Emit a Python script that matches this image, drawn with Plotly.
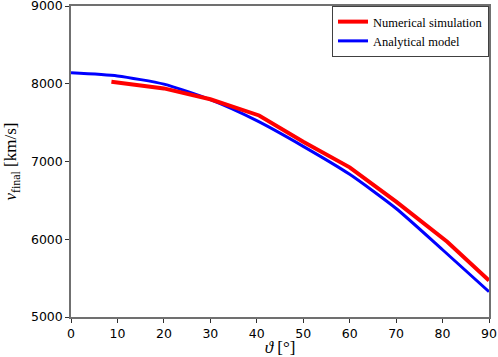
import plotly.graph_objects as go

theta_num = [8.7, 20, 30, 40.5, 50, 60, 70, 81, 90]
v_num = [8027, 7940, 7800, 7592, 7255, 6925, 6483, 5969, 5470]

theta_ana = [0, 10, 20, 30, 40, 50, 60, 70, 80, 90]
v_ana = [8140, 8100, 7995, 7795, 7525, 7195, 6835, 6395, 5865, 5325]

x_ticks = [0, 10, 20, 30, 40, 50, 60, 70, 80, 90]
y_ticks = [5000, 6000, 7000, 8000, 9000]

serif = "Liberation Serif, DejaVu Serif, serif"
sans = "DejaVu Sans, sans-serif"

fig = go.Figure()
fig.add_trace(go.Scatter(x=theta_ana, y=v_ana, mode="lines", name="Analytical model",
                         line=dict(color="#0000ff", width=3, shape="spline", smoothing=0.6),
                         legendrank=2))
fig.add_trace(go.Scatter(x=theta_num, y=v_num, mode="lines", name="Numerical simulation",
                         line=dict(color="#ff0000", width=4),
                         legendrank=1))

axis_common = dict(showline=True, linecolor="#707070", linewidth=1.5, mirror=True,
                   ticks="outside", ticklen=4, tickcolor="#303030", tickwidth=1,
                   showgrid=False, zeroline=False, automargin=False,
                   ticklabeloverflow="allow",
                   tickfont=dict(family=sans, size=12.5, color="#000000"))

fig.update_layout(
    width=498, height=357,
    margin=dict(l=71, r=9, t=6, b=40, pad=0),
    paper_bgcolor="white", plot_bgcolor="white",
    xaxis=dict(range=[0, 90], tickvals=x_ticks,
               title=dict(text="<i>ϑ</i> [°]", font=dict(family=serif, size=17, color="#000"), standoff=0),
               **axis_common),
    yaxis=dict(range=[5000, 9000], tickvals=y_ticks,
               title=dict(text="<i>v</i><sub>final</sub> [km/s]", font=dict(family=serif, size=17, color="#000"), standoff=10),
               **axis_common),
    legend=dict(x=1, y=1, xanchor="right", yanchor="top",
                bgcolor="white", bordercolor="#404040", borderwidth=1,
                font=dict(family=serif, size=12.5, color="#000"),
                tracegroupgap=0, itemwidth=30),
    showlegend=True,
)

fig.write_html("out.html", config={"displayModeBar": False},
               post_script="document.body.style.margin='0';")
